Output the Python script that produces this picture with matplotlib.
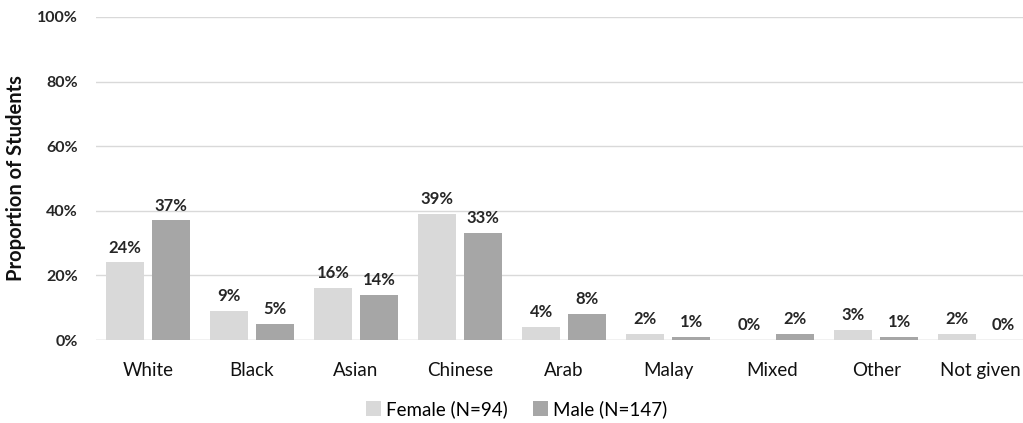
import matplotlib
matplotlib.use("Agg")
import matplotlib.pyplot as plt
import numpy as np

plt.rcParams['font.family'] = ['Lato', 'DejaVu Sans']

categories = ["White", "Black", "Asian", "Chinese", "Arab", "Malay", "Mixed", "Other", "Not given"]
female = [24, 9, 16, 39, 4, 2, 0, 3, 2]
male = [37, 5, 14, 33, 8, 1, 2, 1, 0]
series_labels = ["Female (N=94)", "Male (N=147)"]
y_ticks = [0, 20, 40, 60, 80, 100]

fig = plt.figure(figsize=(10.23, 4.23), dpi=100)
ax = fig.add_axes([96 / 1023, 1 - 340 / 423, 1 - 96 / 1023, (340 - 17) / 423])

x = np.arange(len(categories))
w = 0.365
off = 0.22
c_f = "#d9d9d9"
c_m = "#a6a6a6"
txt = "#262626"
bf = ax.bar(x - off, female, w, color=c_f, label=series_labels[0], zorder=2)
bm = ax.bar(x + off, male, w, color=c_m, label=series_labels[1], zorder=2)

for bars, vals in ((bf, female), (bm, male)):
    for b, v in zip(bars, vals):
        ax.annotate(f"{v}%", (b.get_x() + b.get_width() / 2, v),
                    xytext=(0, 5), textcoords="offset points",
                    ha="center", va="bottom", fontsize=12, fontweight="bold",
                    color=txt)

ax.set_ylim(0, 100)
ax.set_xlim(-0.5, 8.41)
ax.set_yticks(y_ticks)
ax.set_yticklabels([f"{t}%" for t in y_ticks], fontsize=11.5, fontweight="bold", color=txt)
ax.set_xticks(x)
ax.set_xticklabels(categories, fontsize=13.5, color="#111111")
ax.tick_params(axis="both", length=0)
ax.tick_params(axis="x", pad=16)
ax.tick_params(axis="y", pad=13)
ax.grid(axis="y", color="#d9d9d9", linewidth=1, zorder=0)
for s in ax.spines.values():
    s.set_visible(False)
ax.axhline(0, color="#d9d9d9", linewidth=1, zorder=1)

ax.set_ylabel("Proportion of Students", fontsize=14.5, fontweight="bold", color="#111111")
ax.yaxis.set_label_coords(-0.075, 0.5)

fig.legend(handles=[bf, bm], labels=series_labels, loc="center", bbox_to_anchor=(0.505, 1 - 409 / 423),
           ncol=2, frameon=False, fontsize=13.5, handlelength=0.8, handleheight=0.8,
           handletextpad=0.3, columnspacing=1.3)

fig.savefig("out.png", dpi=100)
